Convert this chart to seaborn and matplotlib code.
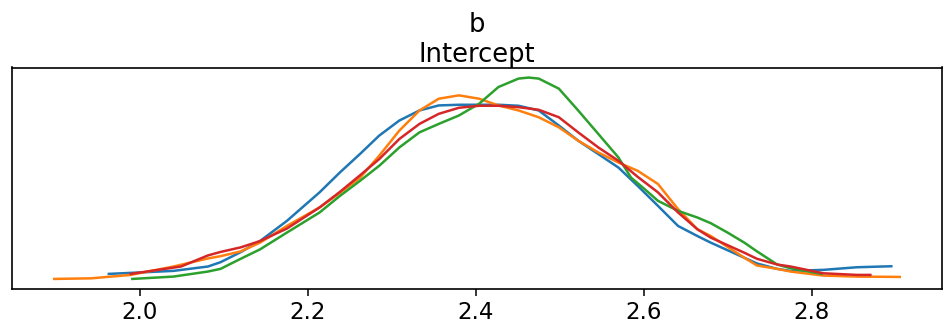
import pandas as pd
import matplotlib
matplotlib.use("Agg")
import matplotlib.pyplot as plt
import seaborn as sns

# posterior density of the intercept, one curve per chain
chain0_x = [1.963, 2.040, 2.081, 2.096, 2.120, 2.143, 2.175, 2.214, 2.238, 2.262, 2.285,
            2.309, 2.333, 2.356, 2.380, 2.404, 2.427, 2.451, 2.475, 2.499, 2.522, 2.546,
            2.570, 2.593, 2.617, 2.641, 2.664, 2.680, 2.720, 2.735, 2.759, 2.775, 2.814,
            2.854, 2.895]
chain0_y = [0.078, 0.123, 0.188, 0.252, 0.402, 0.567, 0.867, 1.293, 1.587, 1.863, 2.138,
            2.363, 2.513, 2.588, 2.598, 2.598, 2.598, 2.583, 2.513, 2.288, 2.063, 1.863,
            1.662, 1.388, 1.092, 0.792, 0.642, 0.543, 0.318, 0.233, 0.153, 0.123, 0.138,
            0.177, 0.192]

chain1_x = [1.898, 1.942, 1.989, 2.040, 2.081, 2.096, 2.120, 2.143, 2.175, 2.214, 2.238,
            2.262, 2.285, 2.309, 2.333, 2.356, 2.380, 2.404, 2.427, 2.451, 2.475, 2.499,
            2.522, 2.546, 2.570, 2.593, 2.617, 2.641, 2.664, 2.680, 2.720, 2.735, 2.759,
            2.775, 2.814, 2.854, 2.905]
chain1_y = [0.003, 0.012, 0.063, 0.188, 0.308, 0.342, 0.413, 0.543, 0.792, 1.068, 1.283,
            1.508, 1.838, 2.213, 2.513, 2.688, 2.738, 2.688, 2.588, 2.513, 2.412, 2.262,
            2.063, 1.887, 1.737, 1.613, 1.418, 1.043, 0.743, 0.642, 0.318, 0.203, 0.153,
            0.113, 0.053, 0.038, 0.033]

chain2_x = [1.991, 2.040, 2.081, 2.096, 2.120, 2.143, 2.175, 2.214, 2.238, 2.262, 2.285,
            2.309, 2.333, 2.356, 2.380, 2.404, 2.427, 2.451, 2.463, 2.475, 2.499, 2.522,
            2.546, 2.570, 2.585, 2.601, 2.617, 2.641, 2.664, 2.680, 2.700, 2.720, 2.735,
            2.759, 2.775, 2.812]
chain2_y = [0.003, 0.038, 0.113, 0.153, 0.303, 0.443, 0.693, 0.993, 1.238, 1.463, 1.688,
            1.962, 2.187, 2.313, 2.438, 2.613, 2.862, 2.988, 3.003, 2.988, 2.838, 2.513,
            2.163, 1.812, 1.512, 1.343, 1.167, 1.017, 0.918, 0.833, 0.693, 0.543, 0.413,
            0.218, 0.162, 0.078]

chain3_x = [1.989, 2.049, 2.081, 2.096, 2.120, 2.143, 2.175, 2.214, 2.238, 2.262, 2.285,
            2.309, 2.333, 2.356, 2.380, 2.404, 2.427, 2.451, 2.475, 2.499, 2.522, 2.546,
            2.570, 2.593, 2.617, 2.641, 2.664, 2.680, 2.720, 2.735, 2.759, 2.775, 2.814,
            2.854, 2.870]
chain3_y = [0.078, 0.188, 0.353, 0.405, 0.473, 0.567, 0.753, 1.068, 1.298, 1.545, 1.788,
            2.088, 2.313, 2.463, 2.553, 2.583, 2.583, 2.562, 2.523, 2.412, 2.187, 1.962,
            1.763, 1.523, 1.293, 0.993, 0.743, 0.618, 0.393, 0.303, 0.218, 0.188, 0.087,
            0.063, 0.063]

tick_values = [2.0, 2.2, 2.4, 2.6, 2.8]
tick_labels = ["2.0", "2.2", "2.4", "2.6", "2.8"]


def main():
    frames = []
    for i, (xs, ys) in enumerate([(chain0_x, chain0_y), (chain1_x, chain1_y),
                                  (chain2_x, chain2_y), (chain3_x, chain3_y)]):
        frames.append(pd.DataFrame({"b": xs, "density": ys, "chain": i}))
    df = pd.concat(frames, ignore_index=True)

    fig, ax = plt.subplots(figsize=(9.44, 3.26), dpi=100)
    fig.subplots_adjust(left=12 / 944, right=942 / 944, top=1 - 67.5 / 326, bottom=1 - 289 / 326)

    sns.lineplot(data=df, x="b", y="density", hue="chain",
                 palette=sns.color_palette("tab10", 4), estimator=None, sort=False,
                 linewidth=1.8, legend=False, ax=ax)

    ax.set_title("b\nIntercept", fontsize=18.5, pad=3)
    ax.set_xlabel("")
    ax.set_ylabel("")
    ax.set_yticks([])
    ax.set_xticks(tick_values)
    ax.set_xticklabels(tick_labels)
    ax.tick_params(axis="x", labelsize=16.5, length=5, width=1.1)
    for s in ax.spines.values():
        s.set_linewidth(1.2)

    fig.savefig("out.png", dpi=100)


if __name__ == '__main__':
    main()
